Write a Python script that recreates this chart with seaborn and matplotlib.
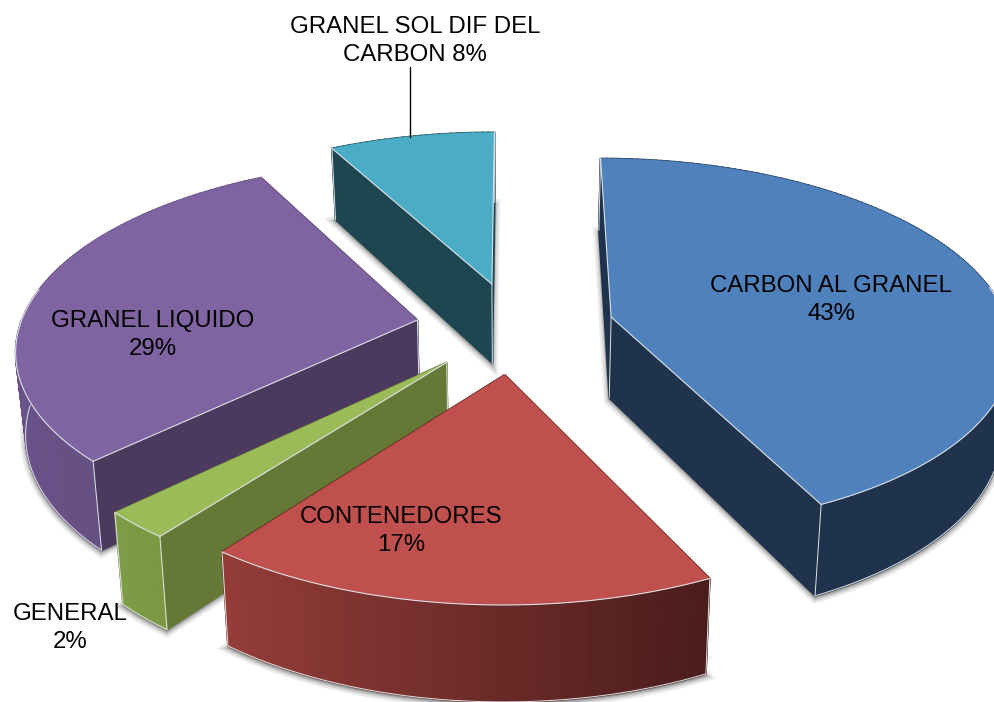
import numpy as np
import seaborn as sns
import matplotlib.pyplot as plt

# share of each cargo type, clockwise from 12 o'clock
categories = ["CARBON AL GRANEL", "CONTENEDORES", "GENERAL", "GRANEL LIQUIDO", "GRANEL SOL DIF DEL\nCARBON"]
values = [42.7, 17.8, 2.4, 29.4, 7.7]
percent_labels = [43, 17, 2, 29, 8]

top_colors = ["#4F81BD", "#C0504D", "#9BBB59", "#8064A2", "#4BACC6"]
radial_colors = ["#1F344C", "#4A1D1B", "#657836", "#4B3A5E", "#1D4650"]
wall_left = ["#1F344C", "#933C38", "#7E9B46", "#6A5288", "#1D4650"]
wall_right = ["#1F344C", "#4A1D1B", "#7C9843", "#5E4A78", "#1D4650"]
# which straight edges (0 first, 1 last) show a wall below them
lit_radials = [(0, 1), (), (0,), (0,), (0, 1)]

label_xy = [(831, 300), (401, 531), (70, 628), (153, 335), (415, 41)]

# perspective camera, fitted by eye on the picture
VX, HY = 515, -1126
F, G = 3142, 11482
DEPTH = 7.9
RADIUS = 1.0
EXPLODE = 0.25
RIM_SHIFT = -0.018  # rim sits a little nearer than the apex
PALE = "#DDE1E6"

sns.set_theme(style="white")
plt.rcParams["font.family"] = ["Liberation Sans", "DejaVu Sans"]

fig = plt.figure(figsize=(9.95, 7.02), dpi=100)
ax = fig.add_axes([0, 0, 1, 1])
ax.set_xlim(0, 995)
ax.set_ylim(702, 0)
ax.axis("off")


def project(x, y, z=0.0):
    s = 1 / (DEPTH + y)
    return VX + F * x * s * (1 - 0.02 * z), HY + G * s * (1 + 0.056 * z)


def face(pts, z):
    xs, ys = zip(*[project(p[0], p[1], zz) for p, zz in zip(pts, z)])
    return xs, ys


shares = np.array(values) / np.sum(values)
edges = np.concatenate([[0], np.cumsum(shares)]) * 2 * np.pi

slices = []
for i in range(len(values)):
    t1, t2 = edges[i], edges[i + 1]
    mid = (t1 + t2) / 2
    cx, cy = EXPLODE * np.sin(mid), EXPLODE * np.cos(mid)
    th = np.linspace(t1, t2, max(int(np.degrees(t2 - t1)), 8) + 1)
    arc = [(cx + RADIUS * np.sin(a), cy + RIM_SHIFT + RADIUS * np.cos(a)) for a in th]
    slices.append(dict(i=i, apex=(cx, cy), arc=arc, th=th))

# far slices first so the near ones paint over them
order = [4, 3, 0, 2, 1]
for k in order:
    sl = slices[k]
    apex, arc, th = sl["apex"], sl["arc"], sl["th"]
    outline = [apex] + arc

    # soft shadow under the base
    xs, ys = face(outline, [1] * len(outline))
    ys = [y + 2 for y in ys]
    for lw, a in [(8, 0.1), (5, 0.15), (2.5, 0.25)]:
        ax.fill(xs, ys, facecolor="#555555", edgecolor="#555555", lw=lw, alpha=a, zorder=order.index(k) * 10)

    base = order.index(k) * 10 + 1
    faces = []
    for end in (arc[0], arc[-1]):
        faces.append(((apex[1] + end[1]) / 2, [apex, end], radial_colors[k]))
    n = len(arc) - 1
    # wall gradient runs left to right on screen
    xmid = [project(*arc[j])[0] for j in range(n)]
    lo, hi = min(xmid), max(xmid)
    grad = sns.blend_palette([wall_left[k], wall_right[k]], 64)
    for j in range(n):
        pos = (xmid[j] - lo) / max(hi - lo, 1)
        faces.append(((arc[j][1] + arc[j + 1][1]) / 2, [arc[j], arc[j + 1]], grad[int(pos * 63)]))
    faces.sort(key=lambda f: -f[0])
    for _, (p, q), col in faces:
        xs, ys = face([p, q, q, p], [0, 0, 1, 1])
        ax.fill(xs, ys, facecolor=col, edgecolor=col, lw=1.2, zorder=base)

    # pale corner lines
    for p in (apex, arc[0], arc[-1]):
        xs, ys = face([p, p], [0, 1])
        ax.plot(xs, ys, color=PALE, lw=0.7, zorder=base + 1)

    # pale base line, only on the part of the rim facing the viewer
    front = [p for p, a in zip(arc, th) if np.cos(a) < 0]
    if len(front) > 1:
        xs, ys = face(front, [1] * len(front))
        ax.plot(xs, ys, color=PALE, lw=0.7, zorder=base + 1)

    xs, ys = face(outline, [0] * len(outline))
    ax.fill(xs, ys, facecolor=top_colors[k], edgecolor=top_colors[k], lw=0.3, zorder=base + 2)

    # pale lines on the top edges that meet a wall
    rim = [p for p, a in zip(arc, th) if np.cos(a) < 0.2]
    if len(rim) > 1:
        xs, ys = face(rim, [0] * len(rim))
        ax.plot(xs, ys, color=PALE, lw=0.8, zorder=base + 3)
    for r in lit_radials[k]:
        xs, ys = face([apex, arc[-r]], [0, 0])
        ax.plot(xs, ys, color=PALE, lw=0.8, zorder=base + 3)

# labels
for name, v, (x, y) in zip(categories, percent_labels, label_xy):
    if "\n" in name:
        txt = f"{name} {v}%"
    else:
        txt = f"{name}\n{v}%"
    ax.text(x, y, txt, ha="center", va="center", fontsize=17.3, color="black", linespacing=1.32, zorder=100)

# leader line for the small slice
ax.plot([410, 410], [67, 137], color="black", lw=1, zorder=99)

fig.savefig("out.png", dpi=100)
